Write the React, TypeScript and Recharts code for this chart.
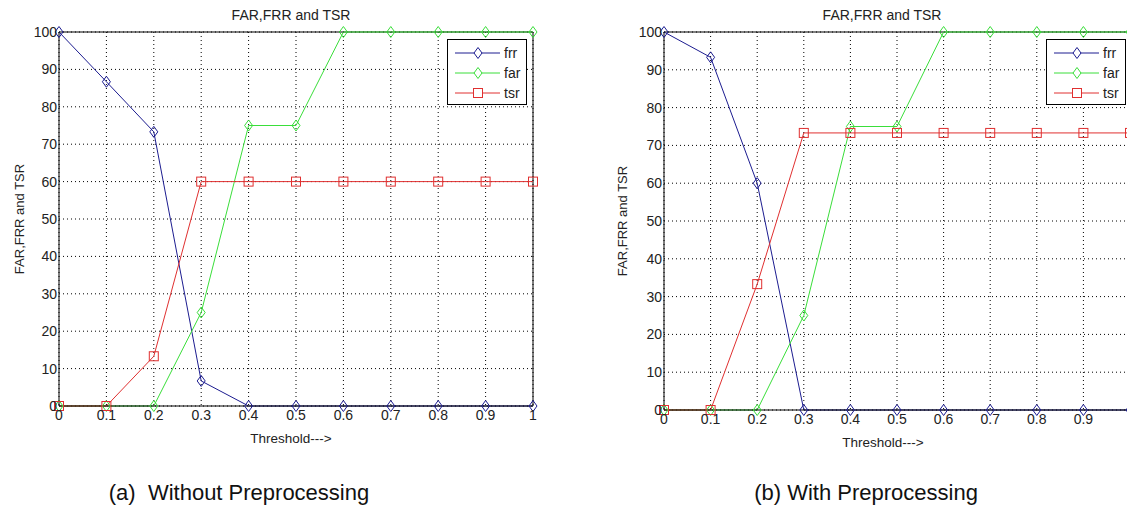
import React from 'react';
import { LineChart, Line, XAxis, YAxis, CartesianGrid, ReferenceLine } from 'recharts';

const thresholds = [0, 0.1, 0.2, 0.3, 0.4, 0.5, 0.6, 0.7, 0.8, 0.9, 1];
const yTicks = [0, 10, 20, 30, 40, 50, 60, 70, 80, 90, 100];

// (a) without preprocessing
const frrA = [100, 86.7, 73.3, 6.7, 0, 0, 0, 0, 0, 0, 0];
const farA = [0, 0, 0, 25, 75, 75, 100, 100, 100, 100, 100];
const tsrA = [0, 0, 13.3, 60, 60, 60, 60, 60, 60, 60, 60];

// (b) with preprocessing
const frrB = [100, 93.3, 60, 0, 0, 0, 0, 0, 0, 0, 0];
const farB = [0, 0, 0, 25, 75, 75, 100, 100, 100, 100, 100];
const tsrB = [0, 0, 33.3, 73.3, 73.3, 73.3, 73.3, 73.3, 73.3, 73.3, 73.3];

const FRR_COLOR = '#1c1c90';
const FAR_COLOR = '#3ade3a';
const TSR_COLOR = '#e03030';
const FONT = '"Liberation Sans", Arial, sans-serif';

const buildRows = (frr: number[], far: number[], tsr: number[]) =>
  thresholds.map((t, i) => ({ t, frr: frr[i], far: far[i], tsr: tsr[i] }));

const diamondDot = (color: string) => (props: any) => {
  const { cx, cy, index } = props;
  if (cx == null || cy == null) return <g key={`e${index}`} />;
  return (
    <path
      key={`d${index}`}
      d={`M${cx},${cy - 5.5}L${cx + 4},${cy}L${cx},${cy + 5.5}L${cx - 4},${cy}Z`}
      fill="none"
      stroke={color}
      strokeWidth={1}
    />
  );
};

const squareDot = (color: string) => (props: any) => {
  const { cx, cy, index } = props;
  if (cx == null || cy == null) return <g key={`e${index}`} />;
  return <rect key={`s${index}`} x={cx - 4.5} y={cy - 4.5} width={9} height={9} fill="none" stroke={color} strokeWidth={1} />;
};

const LegendBox = ({ left, top }: { left: number; top: number }) => {
  const items = [
    { name: 'frr', color: FRR_COLOR, shape: 'd' },
    { name: 'far', color: FAR_COLOR, shape: 'd' },
    { name: 'tsr', color: TSR_COLOR, shape: 's' },
  ];
  return (
    <div style={{ position: 'absolute', left, top, width: 80, height: 66, background: '#fff', border: '1px solid #000', boxSizing: 'border-box' }}>
      <svg width={78} height={64} style={{ display: 'block' }}>
        {items.map((it, i) => {
          const y = 13 + i * 20;
          return (
            <g key={it.name}>
              <line x1={7} x2={52} y1={y} y2={y} stroke={it.color} strokeWidth={1} />
              {it.shape === 'd' ? (
                <path d={`M30,${y - 5.5}L34,${y}L30,${y + 5.5}L26,${y}Z`} fill="#fff" stroke={it.color} />
              ) : (
                <rect x={25.5} y={y - 4.5} width={9} height={9} fill="#fff" stroke={it.color} />
              )}
              <text x={56} y={y + 5} fontSize={14} fontFamily={FONT} fill="#222">{it.name}</text>
            </g>
          );
        })}
      </svg>
    </div>
  );
};

interface PanelProps {
  frr: number[];
  far: number[];
  tsr: number[];
  width: number;
  margin: { top: number; right: number; bottom: number; left: number };
  yLabelOffset: number;
  xLabelDx: number;
  hideLastTick?: boolean;
}

const Panel = ({ frr, far, tsr, width, margin, yLabelOffset, xLabelDx, hideLastTick }: PanelProps) => {
  const data = buildRows(frr, far, tsr);
  const tick = { fontSize: 14, fill: '#222', fontFamily: FONT };
  return (
    <LineChart width={width} height={460} data={data} margin={margin}>
      <CartesianGrid stroke="#000" strokeDasharray="1 3" strokeWidth={1} />
      <XAxis
        dataKey="t"
        type="number"
        domain={[0, 1]}
        ticks={thresholds}
        height={40}
        tick={tick}
        tickSize={0}
        tickMargin={4}
        tickFormatter={(v: number) => (hideLastTick && v === 1 ? '' : String(v))}
        axisLine={{ stroke: '#000' }}
        tickLine={false}
        label={{ value: 'Threshold--->', position: 'insideBottom', offset: 3, dx: xLabelDx, style: { fontSize: 13.5, fill: '#222', fontFamily: FONT } }}
      />
      <YAxis
        type="number"
        domain={[0, 100]}
        ticks={yTicks}
        width={30}
        tick={tick}
        tickSize={0}
        tickMargin={2}
        axisLine={{ stroke: '#000' }}
        tickLine={false}
        label={{ value: 'FAR,FRR and TSR', angle: -90, position: 'left', offset: yLabelOffset, style: { fontSize: 13, fill: '#222', fontFamily: FONT, textAnchor: 'middle' } }}
      />
      <ReferenceLine y={100} stroke="#000" />
      <ReferenceLine x={1} stroke="#000" />
      <Line dataKey="frr" name="frr" stroke={FRR_COLOR} strokeWidth={1} dot={diamondDot(FRR_COLOR)} isAnimationActive={false} />
      <Line dataKey="far" name="far" stroke={FAR_COLOR} strokeWidth={1} dot={diamondDot(FAR_COLOR)} isAnimationActive={false} />
      <Line dataKey="tsr" name="tsr" stroke={TSR_COLOR} strokeWidth={1} dot={squareDot(TSR_COLOR)} isAnimationActive={false} />
    </LineChart>
  );
};

const textStyle = (cx: number, cy: number, size: number): React.CSSProperties => ({
  position: 'absolute',
  left: cx - 200,
  top: cy - size * 0.6,
  width: 400,
  textAlign: 'center',
  fontSize: size,
  lineHeight: `${size * 1.2}px`,
  fontFamily: FONT,
  color: '#111',
  whiteSpace: 'nowrap',
});

export default function App() {
  return (
    <div style={{ position: 'absolute', left: 0, top: 0, width: 1127, height: 507, overflow: 'hidden', background: '#fff' }}>
      <div style={{ position: 'absolute', left: 0, top: 0 }}>
        <Panel frr={frrA} far={farA} tsr={tsrA} width={560} margin={{ top: 32, right: 27, bottom: 14, left: 29 }} yLabelOffset={10} xLabelDx={-5} />
      </div>
      <div style={{ position: 'absolute', left: 580, top: 0 }}>
        <Panel frr={frrB} far={farB} tsr={tsrB} width={570} margin={{ top: 32, right: 20, bottom: 10, left: 54 }} yLabelOffset={12} xLabelDx={-14} hideLastTick />
      </div>

      <div style={{ ...textStyle(291, 15, 14), color: '#222' }}>FAR,FRR and TSR</div>
      <div style={{ ...textStyle(882, 15, 14), color: '#222' }}>FAR,FRR and TSR</div>

      <LegendBox left={447} top={39} />
      <LegendBox left={1046} top={39} />

      <div style={textStyle(239, 493, 22)}>(a)&nbsp;&nbsp;Without Preprocessing</div>
      <div style={textStyle(866, 493, 22)}>(b) With Preprocessing</div>
    </div>
  );
}
